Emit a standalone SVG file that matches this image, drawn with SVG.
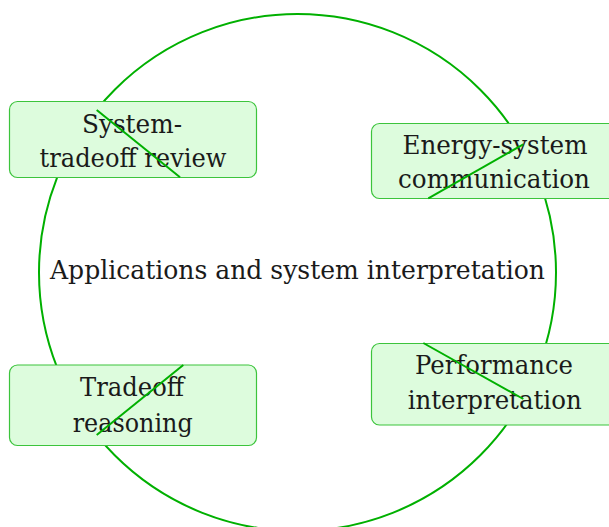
<svg xmlns="http://www.w3.org/2000/svg" width="609" height="527" viewBox="0 0 609 527">
<style>
.ring{fill:none;stroke:#00b000;stroke-width:2}
.box{fill:#ddfcdd;stroke:#3cc43c;stroke-width:1.2}
text{font-family:'DejaVu Serif','Liberation Serif',serif;font-size:26px;fill:#1a1a1a;text-anchor:middle}
.seg{stroke:#00b000;stroke-width:2;fill:none}
</style>
<rect width="609" height="527" fill="#ffffff"/>
<g id="center">
<circle class="ring" cx="297.5" cy="272.5" r="258.5"/>
<text x="297.5" y="278.5" textLength="495" lengthAdjust="spacingAndGlyphs">Applications and system interpretation</text>
</g>
<g id="node-system-tradeoff">
<rect class="box" x="9.5" y="101.5" width="247" height="76" rx="8"/>
<text x="132" y="132.5" textLength="100" lengthAdjust="spacingAndGlyphs">System-</text>
<text x="133" y="166.5" textLength="187" lengthAdjust="spacingAndGlyphs">tradeoff review</text>
</g>
<g id="node-energy-system">
<rect class="box" x="371.5" y="123.5" width="247" height="75" rx="8"/>
<text x="495" y="153.5" textLength="185" lengthAdjust="spacingAndGlyphs">Energy-system</text>
<text x="494" y="187.5" textLength="192" lengthAdjust="spacingAndGlyphs">communication</text>
</g>
<g id="node-tradeoff">
<rect class="box" x="9.5" y="365" width="247" height="80.5" rx="8"/>
<text x="132" y="396" textLength="104" lengthAdjust="spacingAndGlyphs">Tradeoff</text>
<text x="132.7" y="431.5" textLength="120" lengthAdjust="spacingAndGlyphs">reasoning</text>
</g>
<g id="node-performance">
<rect class="box" x="371.5" y="343.5" width="247" height="81.5" rx="8"/>
<text x="494" y="373.5" textLength="158" lengthAdjust="spacingAndGlyphs">Performance</text>
<text x="494.7" y="409" textLength="174" lengthAdjust="spacingAndGlyphs">interpretation</text>
</g>
<g id="connectors">
<line class="seg" x1="96.7" y1="110" x2="180" y2="177.3"/>
<line class="seg" x1="523.3" y1="144.3" x2="428.3" y2="198.3"/>
<line class="seg" x1="183.3" y1="365" x2="96.7" y2="435"/>
<line class="seg" x1="423.3" y1="343" x2="523.3" y2="399"/>
</g>
</svg>
